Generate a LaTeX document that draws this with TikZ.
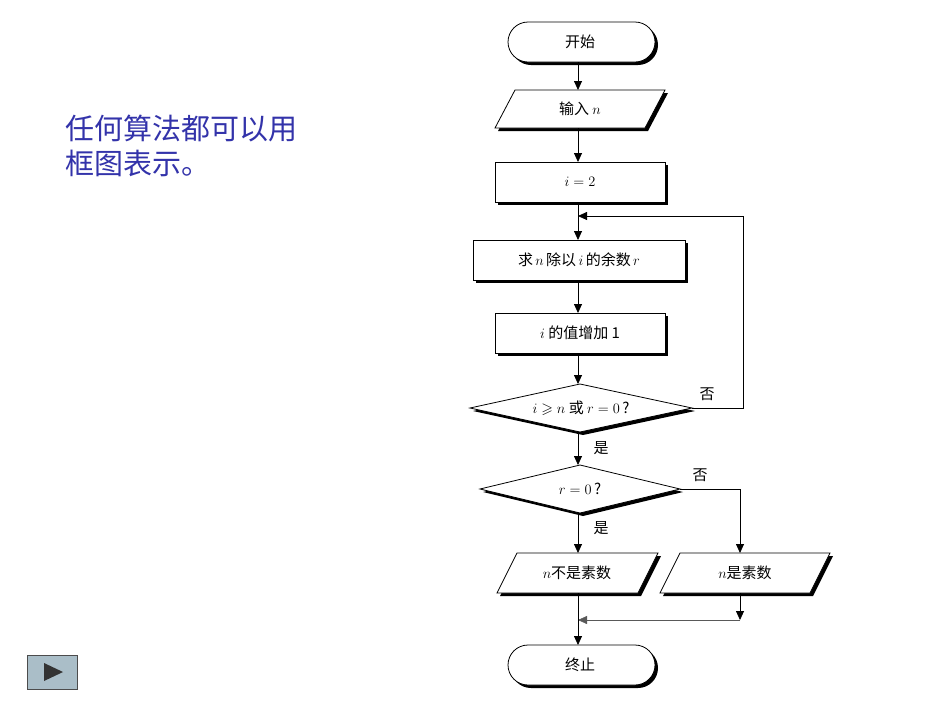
\documentclass[tikz,border=0pt]{standalone}
\usepackage{amssymb}
\usepackage{fontspec}
\newfontfamily\cjk{Noto Sans CJK SC}
\usetikzlibrary{shadows,arrows.meta}
\definecolor{txtblue}{RGB}{51,51,170}
\definecolor{btn}{RGB}{170,190,200}
\tikzset{
 sh/.style={draw=black,line width=0.8pt,fill=white,drop shadow={shadow xshift=3pt,shadow yshift=-3pt,opacity=1,fill=black}},
 lbl/.style={font=\cjk\fontsize{15}{15}\selectfont},
 flow/.style={line width=0.8pt,-{Triangle[length=9pt,width=8pt]}},
 ln/.style={line width=0.8pt},
}
\begin{document}
\begin{tikzpicture}[x=1pt,y=-1pt]
\useasboundingbox (0,0) rectangle (950,713);
% left text
\node[anchor=west,text=txtblue,font=\cjk\fontsize{29}{35}\selectfont,align=left] (t) at (62,146) {任何算法都可以用\\框图表示。};
% button
\node[draw=gray!60!black,fill=btn,minimum width=50pt,minimum height=34pt,inner sep=0pt] (btn) at (52,672) {};
\fill[gray!40!black] (44,663) -- (63,672) -- (44,681) -- cycle;
% shapes
\draw[sh,rounded corners=20pt] (508,22) rectangle (655,62);
\node[lbl] (start) at (580,42) {开始};
\draw[sh] (495,128) -- (515,90) -- (665,90) -- (645,128) -- cycle;
\node[lbl] (inp) at (580,109) {输入 $n$};
\draw[sh] (495,162) rectangle (665,202);
\node[lbl] (init) at (580,182) {$i=2$};
\draw[sh] (473,240) rectangle (685,280);
\node[lbl] (rem) at (579,260) {求$\,n\,$除以$\,i\,$的余数$\,r$};
\draw[sh] (495,313) rectangle (665,353);
\node[lbl] (inc) at (580,333) {$i$ 的值增加 1};
\draw[sh] (470,408) -- (580,384) -- (692,408) -- (580,432) -- cycle;
\node[lbl] (d1) at (581,408) {$i\geqslant n$ 或 $r=0$\,?};
\draw[sh] (480,489) -- (580,465) -- (680,489) -- (580,513) -- cycle;
\node[lbl] (d2) at (580,489) {$r=0$\,?};
\draw[sh] (497,593) -- (517,553) -- (658,553) -- (638,593) -- cycle;
\node[lbl] (np) at (577,573) {$n$不是素数};
\draw[sh] (660,593) -- (680,553) -- (830,553) -- (810,593) -- cycle;
\node[lbl] (p) at (745,573) {$n$是素数};
\draw[sh,rounded corners=20pt] (508,645) rectangle (655,685);
\node[lbl] (stop) at (580,665) {终止};
% coordinates
\coordinate (j1) at (578,216);
\coordinate (c1) at (743,216);
\coordinate (c2) at (743,408);
\coordinate (c3) at (740,489);
\coordinate (j2) at (578,620);
\coordinate (c4) at (740,620);
% connectors
\draw[flow] (578,62) -- (578,90);
\draw[flow] (578,128) -- (578,162);
\draw[ln] (578,202) -- (j1);
\draw[flow] (j1) -- (578,240);
\draw[flow] (578,280) -- (578,313);
\draw[flow] (578,353) -- (578,384);
\draw[ln] (692,408) -- (c2) -- (c1);
\draw[flow] (c1) -- (j1);
\node[lbl] (no1) at (707,394) {否};
\draw[flow] (578,432) -- (578,465);
\node[lbl] (yes1) at (601,448) {是};
\draw[flow] (680,489) -- (c3) -- (740,553);
\node[lbl] (no2) at (700,475) {否};
\draw[flow] (578,513) -- (578,553);
\node[lbl] (yes2) at (601,528) {是};
\draw[flow] (740,593) -- (c4);
\draw[flow,line width=0.5pt,draw=gray!70!black] (c4) -- (j2);
\draw[flow] (578,593) -- (578,645);
\end{tikzpicture}
\end{document}
